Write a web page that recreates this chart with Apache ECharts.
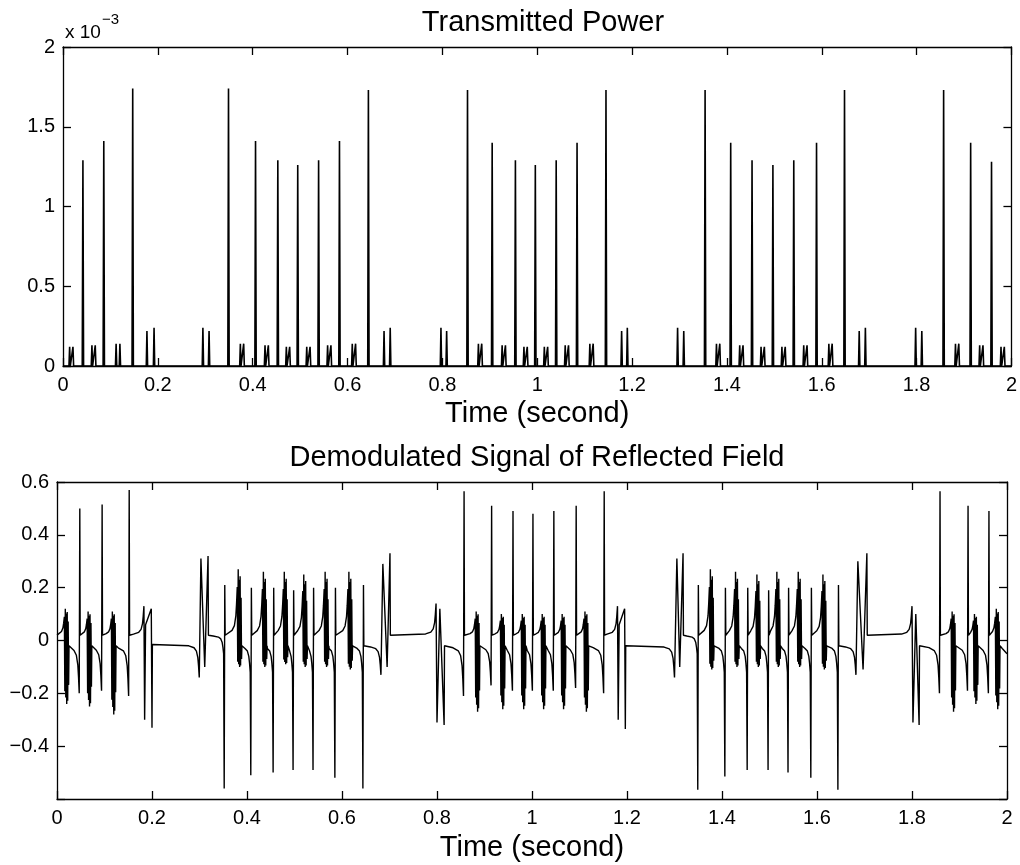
<!DOCTYPE html>
<html><head><meta charset="utf-8">
<script src="https://cdn.jsdelivr.net/npm/echarts/dist/echarts.min.js"></script>
<style>html,body{margin:0;padding:0;background:#fff}#c{width:1020px;height:865px}</style>
</head><body><div id="c"></div>
<script>
// ---------- DATA ----------
const xTickLabels = ['0','0.2','0.4','0.6','0.8','1','1.2','1.4','1.6','1.8','2'];
const powerYTickLabels = ['0','0.5','1','1.5','2'];          // x 10^-3
const fieldYTickLabels = ['\u22120.4','\u22120.2','0','0.2','0.4','0.6'];

// Transmitted power (units of 1e-3): tall resonance spikes
const powerTallT = [0.042,0.086,0.147, 0.349,0.406,0.453,0.495,0.539,0.583,0.644,
  0.853,0.905,0.954,0.996,1.040,1.084,1.145, 1.354,1.408,1.453,1.497,1.541,1.589,1.648,
  1.857,1.914,1.958];
const powerTallH = [1.29,1.41,1.74, 1.74,1.41,1.29,1.26,1.29,1.41,1.73,
  1.73,1.40,1.29,1.26,1.29,1.40,1.73, 1.73,1.40,1.29,1.26,1.29,1.40,1.73,
  1.73,1.40,1.28];
// small spike pairs
const powerSmallT = [0.014,0.021, 0.061,0.068, 0.112,0.120, 0.177,0.192, 0.295,0.308,
  0.374,0.381, 0.426,0.433, 0.471,0.478, 0.514,0.521, 0.558,0.565, 0.610,0.617,
  0.677,0.690, 0.797,0.809,
  0.876,0.883, 0.926,0.933, 0.972,0.979, 1.015,1.022, 1.059,1.066, 1.111,1.118,
  1.178,1.190, 1.296,1.309,
  1.378,1.385, 1.427,1.434, 1.472,1.479, 1.516,1.523, 1.562,1.569, 1.615,1.622,
  1.679,1.692, 1.798,1.811,
  1.882,1.889, 1.933,1.940, 1.978,1.985];
const powerSmallH = [0.12,0.12, 0.13,0.13, 0.14,0.14, 0.22,0.24, 0.24,0.22,
  0.14,0.14, 0.13,0.13, 0.12,0.12, 0.12,0.12, 0.13,0.13, 0.14,0.14,
  0.22,0.24, 0.24,0.22,
  0.14,0.14, 0.13,0.13, 0.12,0.12, 0.12,0.12, 0.13,0.13, 0.14,0.14,
  0.22,0.24, 0.24,0.22,
  0.14,0.14, 0.13,0.13, 0.12,0.12, 0.12,0.12, 0.13,0.13, 0.14,0.14,
  0.22,0.24, 0.24,0.22,
  0.14,0.14, 0.13,0.13, 0.12,0.12];

// Demodulated signal: upward resonance events
const fieldUpT    = [0.048,0.095,0.152, 0.857,0.915,0.960,1.002,1.046,1.093,1.152, 1.859,1.918,1.962];
const fieldUpPeak = [0.50,0.515,0.57, 0.565,0.51,0.49,0.48,0.49,0.51,0.565, 0.565,0.51,0.49];
const fieldUpDip  = [-0.20,-0.19,-0.21, -0.21,-0.17,-0.19,-0.19,-0.19,-0.18,-0.20, -0.20,-0.19,-0.20];
// downward resonance events
const fieldDownT    = [0.352,0.408,0.455,0.497,0.539,0.585,0.644, 1.349,1.406,1.453,1.497,1.539,1.587,1.644];
const fieldDownPeak = [-0.56,-0.51,-0.50,-0.49,-0.49,-0.52,-0.56, -0.565,-0.515,-0.49,-0.49,-0.50,-0.52,-0.565];
const fieldDownPre  = [-0.05,-0.12,-0.12,-0.12,-0.12,-0.12,-0.12, -0.05,-0.12,-0.12,-0.12,-0.12,-0.12,-0.12];
const fieldDownBump = [0.21,0.20,0.20,0.19,0.20,0.20,0.21, 0.21,0.20,0.20,0.19,0.20,0.20,0.21];
const fieldDownAfter= [0.02,0.02,0.02,0.02,0.02,0.02,-0.02, 0.02,0.02,0.02,0.02,0.02,0.02,-0.02];
// small ringing clusters between resonances
const fieldClusterT  = [0.020,0.068,0.119, 0.384,0.437,0.481,0.522,0.567,0.617,
  0.885,0.938,0.982,1.024,1.066,1.114, 1.378,1.431,1.476,1.518,1.563,1.615, 1.887,1.934,1.980];
const fieldClusterHi = [0.12,0.11,0.11, 0.27,0.26,0.26,0.25,0.26,0.26,
  0.11,0.10,0.10,0.10,0.10,0.11, 0.27,0.26,0.25,0.26,0.26,0.25, 0.11,0.10,0.12];
const fieldClusterLo = [-0.24,-0.25,-0.28, -0.10,-0.10,-0.09,-0.10,-0.10,-0.11,
  -0.27,-0.26,-0.26,-0.26,-0.26,-0.27, -0.11,-0.10,-0.10,-0.10,-0.10,-0.11, -0.27,-0.24,-0.26];
// ringing pattern seen inside each cluster: [time offset, 1 = high side / 0 = low side, share of extreme]
const clusterRing = [[-0.0045,1,0.75],[-0.0035,0,0.8],[-0.0025,1,1],[-0.0015,0,0.9],
  [-0.0005,1,0.85],[0.0005,0,1],[0.0015,1,0.9],[0.0025,0,0.95],[0.0035,1,0.6],[0.0045,0,0.7]];
// edge pairs at the start / end of each burst: [t, v] vertices and level that follows
const fieldEdgePts = [
  [[0.183,0.13],[0.1845,-0.30],[0.1865,0.06],[0.1985,0.12],[0.2000,-0.33]],
  [[0.2995,-0.14],[0.303,0.31],[0.311,-0.10],[0.318,0.32]],
  [[0.682,-0.13],[0.686,0.29],[0.695,-0.10],[0.701,0.33]],
  [[0.798,0.14],[0.800,-0.31],[0.806,0.12],[0.815,-0.32]],
  [[1.180,0.13],[1.1815,-0.30],[1.1835,0.06],[1.195,0.12],[1.1965,-0.335]],
  [[1.300,-0.14],[1.305,0.31],[1.311,-0.10],[1.318,0.33]],
  [[1.682,-0.13],[1.686,0.30],[1.697,-0.11],[1.705,0.33]],
  [[1.800,0.13],[1.802,-0.31],[1.808,0.10],[1.815,-0.32]]
];
const fieldEdgeAfter = [-0.015, 0.02, 0.02, -0.02, -0.02, 0.02, 0.02, -0.02];
// dispersive approach of the baseline into each event: [time offset, fraction of jump]
const approachShape = [[-0.022,0.04],[-0.011,0.10],[-0.006,0.20],[-0.003,0.40],[-0.0015,0.65]];

// ---------- BUILD LINE DATA ----------
function buildPower() {
  const sp = powerTallT.map((t,i)=>[t,powerTallH[i]])
    .concat(powerSmallT.map((t,i)=>[t,powerSmallH[i]]))
    .sort((a,b)=>a[0]-b[0]);
  const d = [[0,0]];
  sp.forEach(([t,h])=>{ d.push([t-0.0014,0],[t,h],[t+0.0014,0]); });
  d.push([2,0]);
  return d;
}
function buildField() {
  const ev = [];
  fieldUpT.forEach((t,i)=>ev.push({pts:[[t-0.0012,fieldUpDip[i]],[t,fieldUpPeak[i]]], after:0.02}));
  fieldDownT.forEach((t,i)=>ev.push({pts:[[t-0.0012,fieldDownPre[i]],[t,fieldDownPeak[i]],[t+0.0012,fieldDownBump[i]]], after:fieldDownAfter[i]}));
  fieldClusterT.forEach((t,i)=>ev.push({
    pts:clusterRing.map(([dt,side,s])=>[t+dt, (side?fieldClusterHi[i]:fieldClusterLo[i])*s]),
    after:-0.02}));
  fieldEdgePts.forEach((p,i)=>ev.push({pts:p, after:fieldEdgeAfter[i]}));
  ev.sort((a,b)=>a.pts[0][0]-b.pts[0][0]);
  const d = [[0,0.02]];
  let level = 0.02, prevEnd = 0;
  ev.forEach(e=>{
    const f = e.pts[0];
    d.push([prevEnd+0.0008, level]);
    approachShape.forEach(([dt,fr])=>{
      const tt = f[0]+dt;
      if (tt > prevEnd+0.0009) d.push([tt, level+(f[1]-level)*fr]);
    });
    e.pts.forEach(p=>d.push(p));
    prevEnd = e.pts[e.pts.length-1][0];
    level = e.after;
  });
  d.push([prevEnd+0.0008, level],[1.99,level-0.01],[2,-0.05]);
  return d;
}

// ---------- CHART ----------
const FONT = 'Liberation Sans, Arial, Helvetica, sans-serif';
const chart = echarts.init(document.getElementById('c'), null, {renderer:'canvas'});
const lineS = {color:'#000', width:1.3};
function xAx(grid, pos, labels, name, gap) {
  return {type:'value', gridIndex:grid, position:pos, min:0, max:2, interval:0.2,
    axisLine:{show:true, onZero:false, lineStyle:lineS},
    axisTick:{show:true, inside:true, length:8, lineStyle:lineS},
    splitLine:{show:false},
    axisLabel:{show:labels, margin:9, color:'#000', fontSize:20, fontFamily:FONT,
      formatter:v=>xTickLabels[Math.round(v/0.2)]},
    name: name||'', nameLocation:'middle', nameGap:gap||0,
    nameTextStyle:{color:'#000', fontSize:29, fontFamily:FONT}};
}
function yAx(grid, pos, labels, min, max, interval, fmt) {
  return {type:'value', gridIndex:grid, position:pos, min, max, interval,
    axisLine:{show:true, onZero:false, lineStyle:lineS},
    axisTick:{show:true, inside:true, length:8, lineStyle:lineS},
    splitLine:{show:false},
    axisLabel:{show:labels, margin:8, color:'#000', fontSize:20, fontFamily:FONT, formatter:fmt}};
}
chart.setOption({
  animation:false,
  backgroundColor:'#fff',
  title:[
    {text:'Transmitted Power', left:538, top:3, textAlign:'center',
      textStyle:{color:'#000', fontSize:29, fontWeight:'normal', fontFamily:FONT}},
    {text:'Demodulated Signal of Reflected Field', left:532, top:438, textAlign:'center',
      textStyle:{color:'#000', fontSize:29, fontWeight:'normal', fontFamily:FONT}}
  ],
  grid:[
    {left:63, top:47, width:950, height:319},
    {left:57, top:482, width:950, height:317}
  ],
  xAxis:[
    xAx(0,'bottom',true,'Time (second)',33),
    xAx(0,'top',false),
    xAx(1,'bottom',true,'Time (second)',34),
    xAx(1,'top',false)
  ],
  yAxis:[
    yAx(0,'left',true,0,2,0.5,v=>powerYTickLabels[Math.round(v/0.5)]),
    yAx(0,'right',false,0,2,0.5),
    yAx(1,'left',true,-0.6,0.6,0.2,v=>{const i=Math.round(v/0.2)+2; return i>=0&&i<fieldYTickLabels.length?fieldYTickLabels[i]:'';}),
    yAx(1,'right',false,-0.6,0.6,0.2)
  ],
  graphic:[
    {type:'text', left:65, top:23, style:{text:'x 10', fill:'#000', font:'19px '+FONT}},
    {type:'text', left:102, top:12, style:{text:'\u22123', fill:'#000', font:'15px '+FONT}}
  ],
  series:[
    {type:'line', xAxisIndex:0, yAxisIndex:0, data:buildPower(), showSymbol:false, symbol:'none',
      lineStyle:{color:'#000', width:1.6}, silent:true},
    {type:'line', xAxisIndex:2, yAxisIndex:2, data:buildField(), showSymbol:false, symbol:'none',
      lineStyle:{color:'#000', width:1.4}, silent:true}
  ]
});
</script></body></html>
